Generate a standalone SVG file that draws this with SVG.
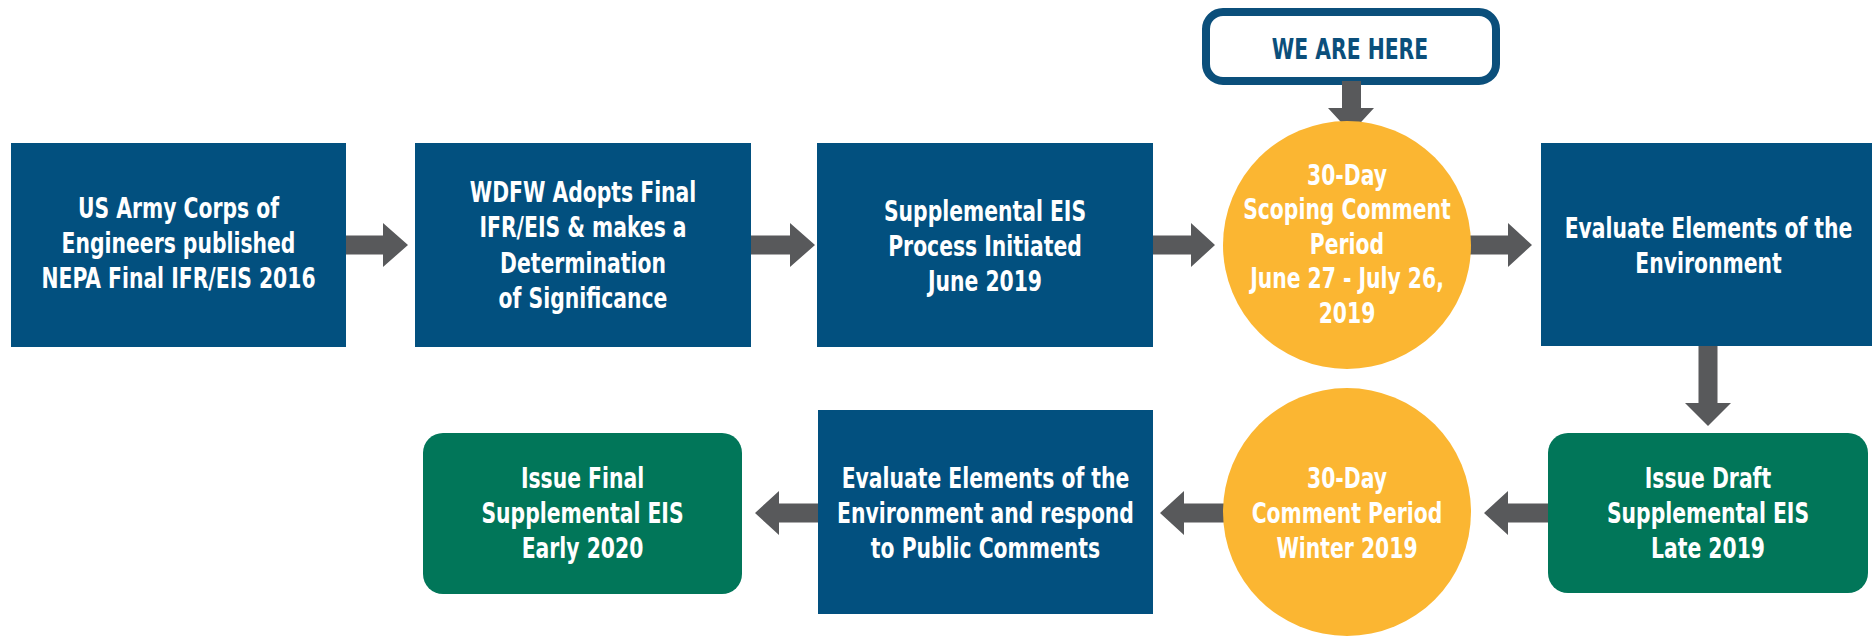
<svg xmlns="http://www.w3.org/2000/svg" width="1872" height="636" viewBox="0 0 1872 636">
<style>
.bg{fill:#ffffff}
.blue{fill:#02507f}
.green{fill:#017659}
.yellow{fill:#fbb632}
.arrow{fill:#58595b}
.t{font-family:"DejaVu Sans Condensed","Liberation Sans",sans-serif;font-weight:bold;font-size:29px;fill:#ffffff;text-anchor:middle}
.here{fill:#ffffff;stroke:#0b4f7b;stroke-width:8}
.ht{font-family:"DejaVu Sans Condensed","Liberation Sans",sans-serif;font-weight:bold;font-size:29px;fill:#0b4f7b;text-anchor:middle}
</style>
<rect class="bg" x="0" y="0" width="1872" height="636"/>
<g id="connectors">
<polygon class="arrow" points="346,235.5 383,235.5 383,223 408,245 383,267 383,254.5 346,254.5"/>
<polygon class="arrow" points="751,235.5 790,235.5 790,223 815,245 790,267 790,254.5 751,254.5"/>
<polygon class="arrow" points="1152,235.5 1191,235.5 1191,223 1215,245 1191,267 1191,254.5 1152,254.5"/>
<polygon class="arrow" points="1470,235.5 1508,235.5 1508,223 1532,245 1508,267 1508,254.5 1470,254.5"/>
<polygon class="arrow" points="1698.5,346 1717.5,346 1717.5,403 1731,403 1708,426 1685,403 1698.5,403"/>
<polygon class="arrow" points="1548,503.5 1508,503.5 1508,491 1484,513 1508,535 1508,522.5 1548,522.5"/>
<polygon class="arrow" points="1224,503.5 1184,503.5 1184,491 1160,513 1184,535 1184,522.5 1224,522.5"/>
<polygon class="arrow" points="818,503.5 779,503.5 779,491 755,513 779,535 779,522.5 818,522.5"/>
</g>
<g id="we-are-here">
<rect class="here" x="1206" y="12" width="290" height="69" rx="17"/>
<g transform="translate(1350 0) scale(0.78 1)"><text class="ht" x="0" y="59">WE ARE HERE</text></g>
</g>
<g id="here-arrow">
<polygon class="arrow" points="1342,81 1361,81 1361,108 1374,108 1351,133 1328,108 1342,108"/>
</g>
<g id="n1">
<rect class="blue" x="11" y="143" width="335" height="204"/>
<g transform="translate(178.5 0) scale(0.78 1)">
<text class="t" x="0" y="218">US Army Corps of</text>
<text class="t" x="0" y="253">Engineers published</text>
<text class="t" x="0" y="288">NEPA Final IFR/EIS 2016</text>
</g>
</g>
<g id="n2">
<rect class="blue" x="415" y="143" width="336" height="204"/>
<g transform="translate(583 0) scale(0.78 1)">
<text class="t" x="0" y="202">WDFW Adopts Final</text>
<text class="t" x="0" y="237">IFR/EIS &amp; makes a</text>
<text class="t" x="0" y="273">Determination</text>
<text class="t" x="0" y="308">of Significance</text>
</g>
</g>
<g id="n3">
<rect class="blue" x="817" y="143" width="336" height="204"/>
<g transform="translate(985 0) scale(0.78 1)">
<text class="t" x="0" y="221">Supplemental EIS</text>
<text class="t" x="0" y="256">Process Initiated</text>
<text class="t" x="0" y="291">June 2019</text>
</g>
</g>
<g id="n4">
<circle class="yellow" cx="1347" cy="245" r="124"/>
<g transform="translate(1347 0) scale(0.78 1)">
<text class="t" x="0" y="185">30-Day</text>
<text class="t" x="0" y="219.5">Scoping Comment</text>
<text class="t" x="0" y="254">Period</text>
<text class="t" x="0" y="288.5">June 27 - July 26,</text>
<text class="t" x="0" y="323">2019</text>
</g>
</g>
<g id="n5">
<rect class="blue" x="1541" y="143" width="335" height="203"/>
<g transform="translate(1708.5 0) scale(0.78 1)">
<text class="t" x="0" y="238">Evaluate Elements of the</text>
<text class="t" x="0" y="273">Environment</text>
</g>
</g>
<g id="n6">
<rect class="green" x="1548" y="433" width="320" height="160" rx="20"/>
<g transform="translate(1708 0) scale(0.78 1)">
<text class="t" x="0" y="488">Issue Draft</text>
<text class="t" x="0" y="523">Supplemental EIS</text>
<text class="t" x="0" y="558">Late 2019</text>
</g>
</g>
<g id="n7">
<circle class="yellow" cx="1347" cy="512" r="124"/>
<g transform="translate(1347 0) scale(0.78 1)">
<text class="t" x="0" y="488">30-Day</text>
<text class="t" x="0" y="523">Comment Period</text>
<text class="t" x="0" y="558">Winter 2019</text>
</g>
</g>
<g id="n8">
<rect class="blue" x="818" y="410" width="335" height="204"/>
<g transform="translate(985.5 0) scale(0.78 1)">
<text class="t" x="0" y="488">Evaluate Elements of the</text>
<text class="t" x="0" y="523">Environment and respond</text>
<text class="t" x="0" y="558">to Public Comments</text>
</g>
</g>
<g id="n9">
<rect class="green" x="423" y="433" width="319" height="161" rx="20"/>
<g transform="translate(582.5 0) scale(0.78 1)">
<text class="t" x="0" y="488">Issue Final</text>
<text class="t" x="0" y="523">Supplemental EIS</text>
<text class="t" x="0" y="558">Early 2020</text>
</g>
</g>
</svg>
